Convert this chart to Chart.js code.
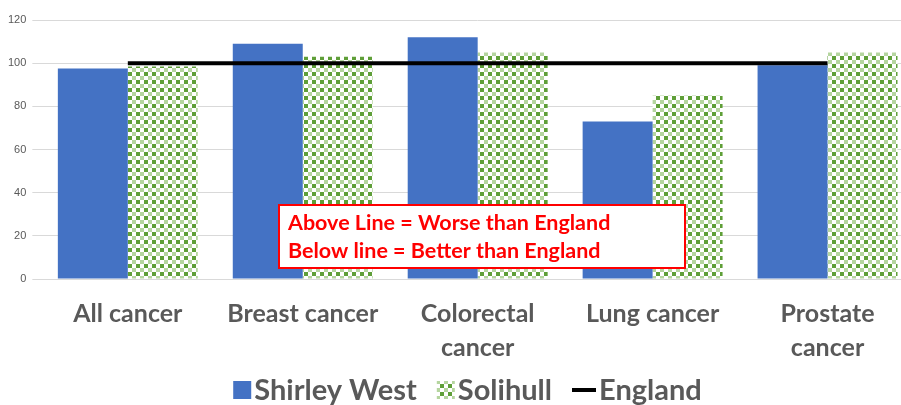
<!DOCTYPE html>
<html>
<head>
<meta charset="utf-8">
<script src="https://cdn.jsdelivr.net/npm/chart.js@4/dist/chart.umd.min.js"></script>
<style>
  html, body { margin: 0; padding: 0; background: #fff; overflow: hidden; }
  #wrap { width: 915px; height: 405px; }
</style>
</head>
<body>
<div id="wrap"><canvas id="chart"></canvas></div>
<script>
const categories = ["All cancer", "Breast cancer", ["Colorectal", "cancer"], "Lung cancer", ["Prostate", "cancer"]];
const shirleyWest = [97.5, 109, 112, 73, 99];
const solihull = [98.5, 103, 105, 85, 105];
const england = [100, 100, 100, 100, 100];
const yTicks = [0, 20, 40, 60, 80, 100, 120];
const noteLines = ["Above Line = Worse than England", "Below line = Better than England"];

// green checker fill used by the Solihull bars
function checkerPattern() {
  const c = document.createElement("canvas");
  c.width = 8; c.height = 8;
  const g = c.getContext("2d");
  g.fillStyle = "#ffffff";
  g.fillRect(0, 0, 8, 8);
  g.fillStyle = "#5f9f38";
  g.fillRect(0, 0, 4, 4);
  g.fillStyle = "#b5d59f";
  g.fillRect(4, 4, 4, 4);
  return g.createPattern(c, "repeat");
}

const grey = "#595959";
const labelFont = "Lato, 'Open Sans', sans-serif";

// red boxed note over the lower part of the plot
const notePlugin = {
  id: "note",
  afterDatasetsDraw(chart) {
    const ctx = chart.ctx;
    const x = 279, y = 205, w = 406, h = 63;
    ctx.save();
    ctx.fillStyle = "#ffffff";
    ctx.fillRect(x, y, w, h);
    ctx.strokeStyle = "#ff0000";
    ctx.lineWidth = 2;
    ctx.strokeRect(x, y, w, h);
    ctx.fillStyle = "#ff0000";
    ctx.font = "bold 21.5px " + labelFont;
    ctx.textBaseline = "middle";
    ctx.fillText(noteLines[0], x + 9, y + 18);
    ctx.fillText(noteLines[1], x + 9, y + 46);
    ctx.restore();
  }
};

// legend drawn by hand so the swatches sit tight against their text
const legendPlugin = {
  id: "bottomLegend",
  afterDraw(chart) {
    const ctx = chart.ctx;
    const sets = chart.data.datasets;
    const box = 18, gap = 3, spacing = 20;
    ctx.save();
    ctx.font = "bold 29px " + labelFont;
    const widths = sets.map(ds => (ds.type === "line" ? 24 : box) + gap + ctx.measureText(ds.label).width);
    const total = widths.reduce((a, b) => a + b, 0) + spacing * (sets.length - 1);
    let x = chart.width / 2 + 10 - total / 2;
    const cy = 390;
    sets.forEach((ds, i) => {
      let sw = box;
      if (ds.type === "line") {
        sw = 24;
        ctx.strokeStyle = ds.borderColor;
        ctx.lineWidth = 4;
        ctx.beginPath();
        ctx.moveTo(x, cy);
        ctx.lineTo(x + sw, cy);
        ctx.stroke();
      } else {
        ctx.fillStyle = ds.backgroundColor;
        ctx.fillRect(x, cy - box / 2, box, box);
      }
      ctx.fillStyle = grey;
      ctx.textBaseline = "middle";
      ctx.fillText(ds.label, x + sw + gap, cy + 1);
      x += widths[i] + spacing;
    });
    ctx.restore();
  }
};

new Chart(document.getElementById("chart"), {
  type: "bar",
  data: {
    labels: categories,
    datasets: [
      {
        label: "Shirley West",
        data: shirleyWest,
        backgroundColor: "#4472c4",
        borderWidth: 0,
        order: 1
      },
      {
        label: "Solihull",
        data: solihull,
        backgroundColor: checkerPattern(),
        borderWidth: 0,
        order: 1
      },
      {
        type: "line",
        label: "England",
        data: england,
        borderColor: "#000000",
        backgroundColor: "#000000",
        borderWidth: 4,
        pointRadius: 0,
        order: 0
      }
    ]
  },
  options: {
    responsive: true,
    maintainAspectRatio: false,
    animation: false,
    layout: { padding: { left: 2, right: 0, top: 20, bottom: 30 } },
    datasets: {
      bar: { categoryPercentage: 0.8, barPercentage: 1.0 }
    },
    scales: {
      x: {
        grid: { display: false },
        border: { color: "#d9d9d9" },
        ticks: {
          color: grey,
          font: { family: labelFont, size: 25, weight: "bold", lineHeight: 1.36 },
          maxRotation: 0,
          autoSkip: false,
          padding: 10
        }
      },
      y: {
        min: 0,
        max: 120,
        afterBuildTicks(axis) { axis.ticks = yTicks.map(v => ({ value: v })); },
        grid: { color: "#d9d9d9", drawTicks: true, tickLength: 8 },
        border: { display: false },
        ticks: {
          color: grey,
          font: { family: "'Liberation Sans', Arial, sans-serif", size: 11 },
          padding: 6
        }
      }
    },
    plugins: {
      legend: { display: false },
      tooltip: { enabled: false }
    }
  },
  plugins: [notePlugin, legendPlugin]
});
</script>
</body>
</html>
